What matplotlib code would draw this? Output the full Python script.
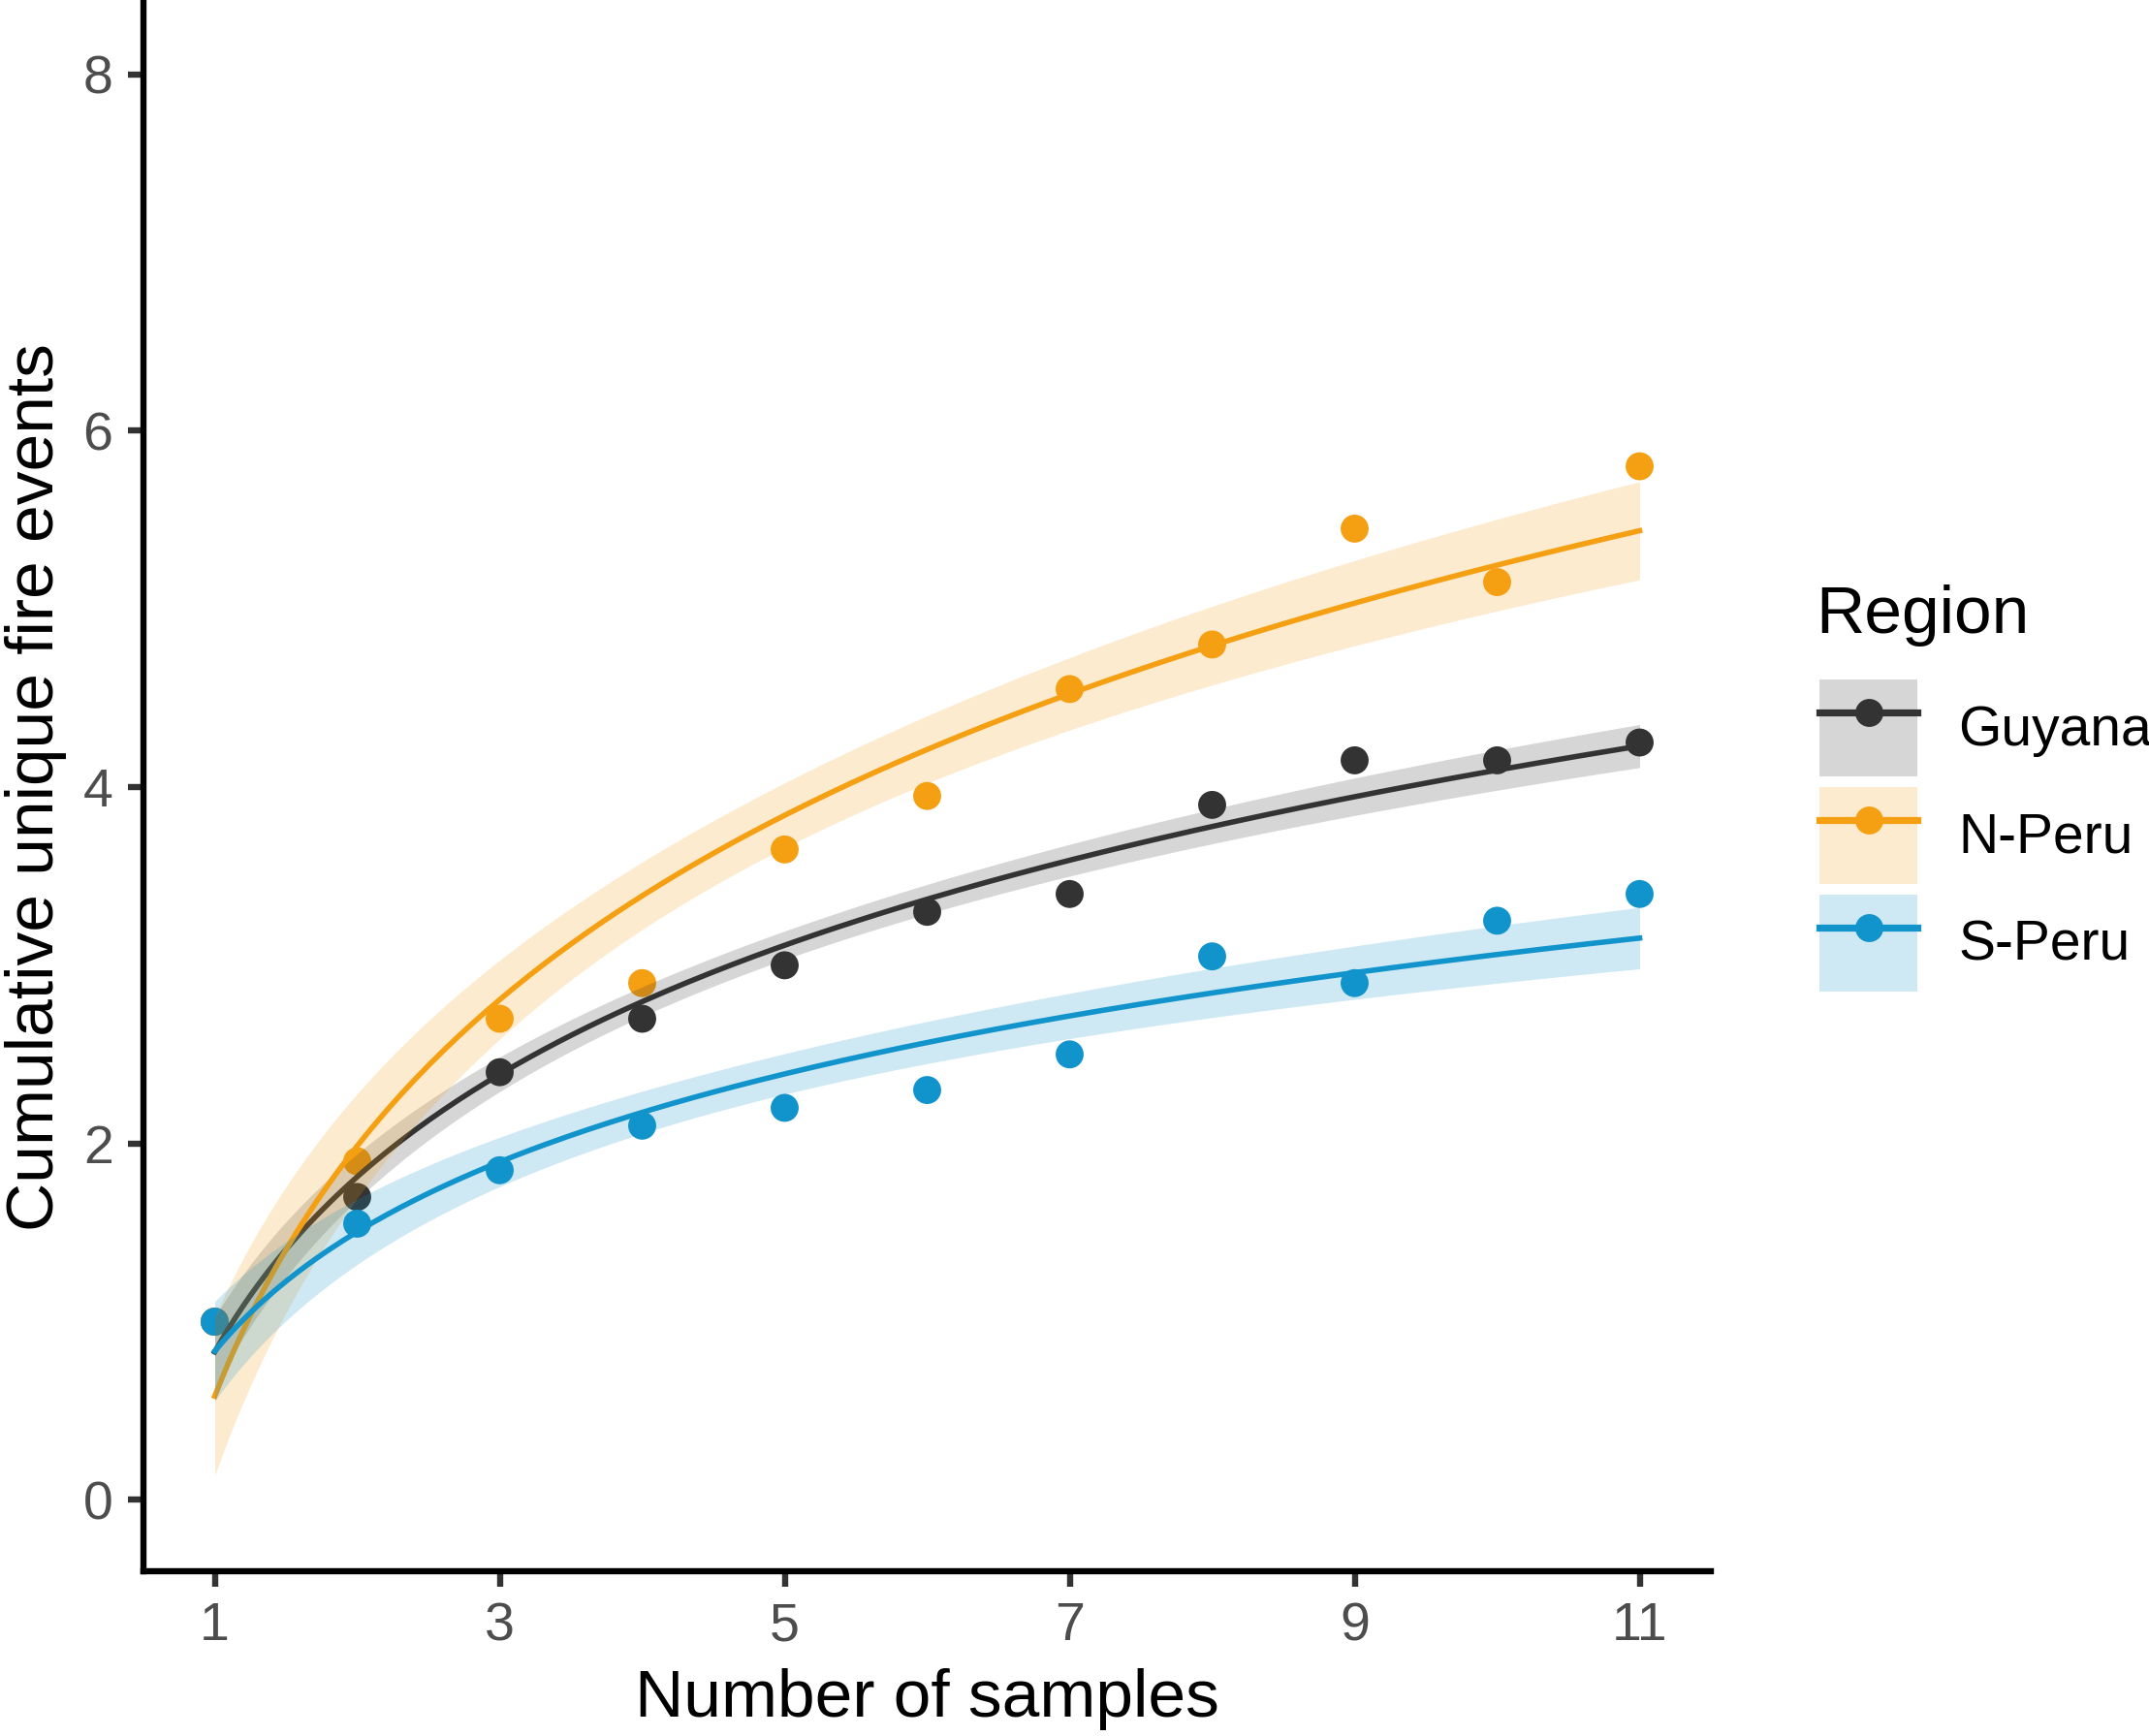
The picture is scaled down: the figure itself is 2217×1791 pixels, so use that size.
import numpy as np
import matplotlib
matplotlib.use("Agg")
import matplotlib.pyplot as plt
from matplotlib.patches import Patch
from matplotlib.lines import Line2D
from matplotlib.legend_handler import HandlerTuple

plt.rcParams['font.family'] = ['Liberation Sans', 'DejaVu Sans']

samples = [1, 2, 3, 4, 5, 6, 7, 8, 9, 10, 11]
regions = ["Guyana", "N-Peru", "S-Peru"]
guyana = [1.0, 1.7, 2.4, 2.7, 3.0, 3.3, 3.4, 3.9, 4.15, 4.15, 4.25]
n_peru = [1.0, 1.9, 2.7, 2.9, 3.65, 3.95, 4.55, 4.8, 5.45, 5.15, 5.8]
s_peru = [1.0, 1.55, 1.85, 2.1, 2.2, 2.3, 2.5, 3.05, 2.9, 3.25, 3.4]
series = [guyana, n_peru, s_peru]
colors = ["#333333", "#F59F12", "#1193CC"]
x_ticks = [1, 3, 5, 7, 9, 11]
y_ticks = [0, 2, 4, 6, 8]

W, H, DPI = 2217, 1791, 200
fig = plt.figure(figsize=(W / DPI, H / DPI), dpi=DPI)
ax = fig.add_axes([148 / W, 1 - 1621 / H, (1765 - 148) / W, (1621 - 3) / H])

Z_CI = 1.96  # normal quantile for the confidence band

# points first (all groups), then smooth ribbons + lines per group
for vals, col in zip(series, colors):
    ax.scatter(samples, vals, s=108, color=col, edgecolors='none', zorder=2)

xs = np.array(samples, dtype=float)
grid = np.linspace(xs.min(), xs.max(), 200)
z = 3
for vals, col in zip(series, colors):
    y = np.array(vals, dtype=float)
    L = np.log(xs)
    n = len(xs)
    Lbar = L.mean()
    Sxx = ((L - Lbar) ** 2).sum()
    b = ((L - Lbar) * (y - y.mean())).sum() / Sxx
    a = y.mean() - b * Lbar
    resid = y - (a + b * L)
    sigma = np.sqrt((resid ** 2).sum() / (n - 2))
    Lg = np.log(grid)
    fit = a + b * Lg
    se = sigma * np.sqrt(1 / n + (Lg - Lbar) ** 2 / Sxx)
    ax.fill_between(grid, fit - Z_CI * se, fit + Z_CI * se,
                    color=col, alpha=0.2, linewidth=0, zorder=z)
    ax.plot(grid, fit, color=col, linewidth=2.0, zorder=z + 1)
    z += 2

ax.set_xlim(0.5, 11.5)
ax.set_ylim(-0.4, 8.4)
ax.set_xticks(x_ticks)
ax.set_yticks(y_ticks)
for s in ['top', 'right']:
    ax.spines[s].set_visible(False)
for s in ['left', 'bottom']:
    ax.spines[s].set_linewidth(2.3)
    ax.spines[s].set_color('black')
ax.tick_params(axis='both', length=5.8, width=2.3, color='#333333',
               labelcolor='#4D4D4D', labelsize=20, pad=5.5)

ax.set_xlabel("Number of samples", fontsize=25, color='black', labelpad=6)
ax.set_ylabel("Cumulative unique fire events", fontsize=25, color='black', labelpad=6)

handles = []
for col in colors:
    p = Patch(facecolor=col, alpha=0.2, edgecolor='none')
    l = Line2D([], [], color=col, linewidth=2.6, marker='o', markersize=10.4,
               markeredgewidth=0)
    handles.append((p, l))

fig.text(1873 / W, 1 - 653 / H, "Region", fontsize=25, color='black',
         ha='left', va='baseline')
leg = fig.legend(handles, regions,
                 handler_map={tuple: HandlerTuple(ndivide=1, pad=0)},
                 loc='upper left', bbox_to_anchor=(1877 / W, 1 - 701 / H),
                 frameon=False, fontsize=20.5,
                 handlelength=1.774, handleheight=2.325, labelspacing=0.193,
                 handletextpad=0.738, borderpad=0, borderaxespad=0,
                 numpoints=1)

fig.savefig("out.png", dpi=DPI)
